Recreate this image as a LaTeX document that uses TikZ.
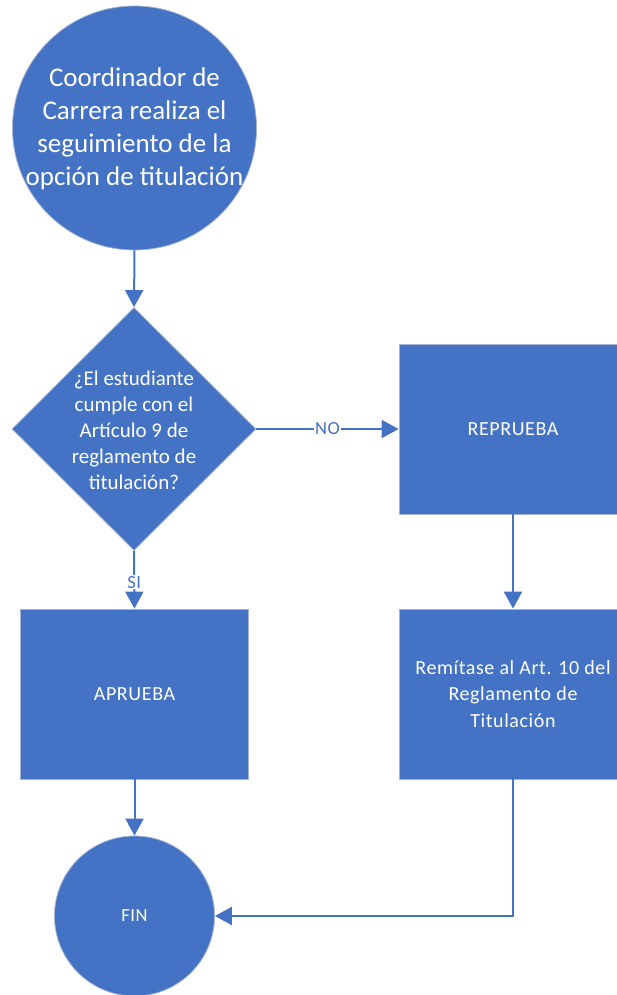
\documentclass[tikz,border=0pt]{standalone}
\usepackage{fontspec}
\setmainfont{Carlito}
\newfontfamily\spacedfont[LetterSpace=3]{Carlito}
\usetikzlibrary{shapes.geometric,arrows.meta}
\definecolor{blu}{RGB}{68,114,196}
\definecolor{edgec}{RGB}{165,180,210}
\begin{document}
\begin{tikzpicture}[x=1pt,y=-1pt,
  shapebox/.style={fill=blu,draw=edgec,line width=0.8pt,inner sep=0pt},
  procbox/.style={shapebox,rectangle,minimum width=228pt,minimum height=170pt},
  txt/.style={text=white,align=center,inner sep=0pt},
  arr/.style={draw=blu,line width=2pt,-{Triangle[width=18pt,length=17pt]}},
  lbl/.style={fill=white,text=blu,inner sep=1pt,font=\spacedfont\fontsize{18.5}{20}\selectfont}
]
\clip (0,0) rectangle (617,995);
\node[shapebox,circle,minimum size=244pt] (start) at (134.5,128) {};
\node[txt,font=\fontsize{27}{33}\selectfont] (starttxt) at (134.5,129) {Coordinador de\\Carrera realiza el\\seguimiento de la\\opción de titulación};
\node[shapebox,diamond,minimum width=244pt,minimum height=243pt] (dec) at (134,429) {};
\node[txt,font=\fontsize{21}{26}\selectfont] (dectxt) at (134,430) {¿El estudiante\\cumple con el\\Artículo 9 de\\reglamento de\\titulación?};
\node[procbox] (rep) at (513,429) {};
\node[txt,font=\spacedfont\fontsize{20}{26}\selectfont] (reptxt) at (rep) {REPRUEBA};
\node[procbox] (apr) at (134.5,694) {};
\node[txt,font=\spacedfont\fontsize{20}{26}\selectfont] (aprtxt) at (apr) {APRUEBA};
\node[procbox] (rem) at (513,694) {};
\node[txt,font=\spacedfont\fontsize{20}{26.5}\selectfont] (remtxt) at (rem) {Remítase al Art. 10 del\\Reglamento de\\Titulación};
\node[shapebox,circle,minimum size=160pt] (fin) at (134.5,916) {};
\node[txt,font=\spacedfont\fontsize{18.5}{22}\selectfont] (fintxt) at (fin) {FIN};
\draw[arr] (start.south) -- (dec.north);
\draw[arr] (dec.east) -- node[lbl] (no) {NO} (rep.west);
\draw[arr] (dec.south) -- node[lbl,pos=0.54] (si) {SI} (apr.north);
\draw[arr] (rep.south) -- (rem.north);
\draw[arr] (apr.south) -- (fin.north);
\draw[arr] (rem.south) |- (fin.east);
\end{tikzpicture}
\end{document}
